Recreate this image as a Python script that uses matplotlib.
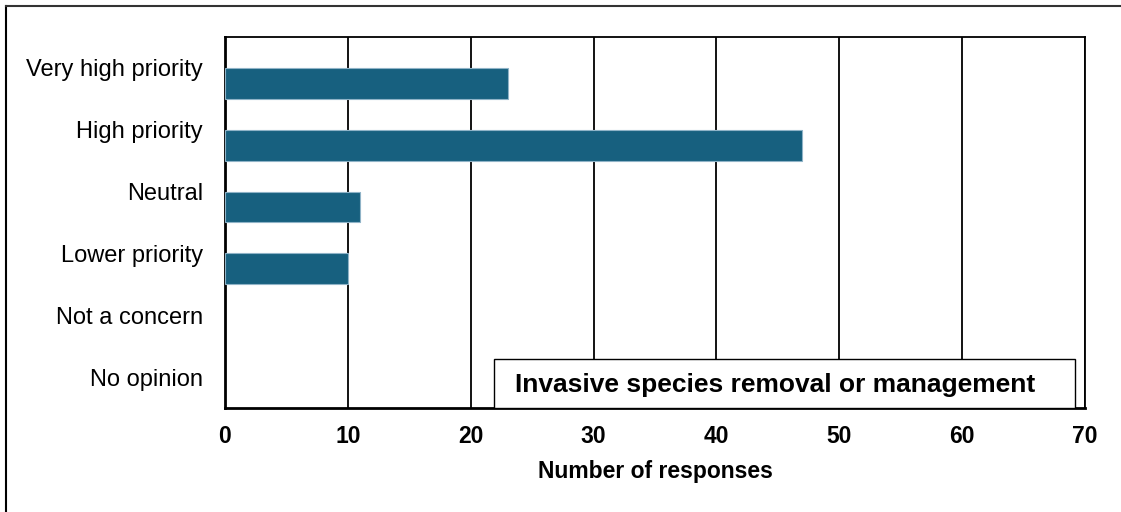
import matplotlib.pyplot as plt
from matplotlib.patches import Rectangle
from matplotlib.lines import Line2D

plt.rcParams['font.family'] = ['Liberation Sans', 'DejaVu Sans']

categories = ['Very high priority', 'High priority', 'Neutral', 'Lower priority',
              'Not a concern', 'No opinion']
responses = [23, 47, 11, 10, 0, 0]
xticks = [0, 10, 20, 30, 40, 50, 60, 70]

fig = plt.figure(figsize=(11.21, 5.12), dpi=100)
ax = fig.add_axes([0.2007, 0.203, 0.7672, 0.725])

ypos = list(range(len(categories)))
edge_w = [0.8 if v > 0 else 0 for v in responses]
ax.barh(ypos, responses, height=0.5, align='edge', color='#17607f',
        edgecolor='#8fb3c7', linewidth=edge_w, zorder=3)

ax.set_xlim(0, 70)
ax.set_ylim(len(categories) - 0.5, -0.5)
ax.set_xticks(xticks)
ax.set_xticklabels([str(t) for t in xticks], fontsize=16.5, fontweight='bold')
ax.set_yticks(ypos)
ax.set_yticklabels(categories, fontsize=17)
ax.tick_params(axis='both', length=0)
ax.tick_params(axis='x', pad=12)
ax.tick_params(axis='y', pad=16)
ax.xaxis.grid(True, color='black', linewidth=1.3)
ax.set_axisbelow(True)
for side in ['top', 'right']:
    ax.spines[side].set_linewidth(1.3)
for side in ['left', 'bottom']:
    ax.spines[side].set_linewidth(2)
ax.set_xlabel('Number of responses', fontsize=16.5, fontweight='bold', labelpad=9)

ax.add_patch(Rectangle((0.313, 0.0), 0.675, 0.132, transform=ax.transAxes,
                       facecolor='white', edgecolor='black', linewidth=1, zorder=5))
ax.text(0.337, 0.063, 'Invasive species removal or management', transform=ax.transAxes,
        fontsize=19, fontweight='bold', va='center', ha='left', zorder=6)

# frame around the figure (left and top visible)
fig.add_artist(Line2D([0.0054, 0.0054], [0, 0.988], color='black', linewidth=1.5))
fig.add_artist(Line2D([0.0054, 1.0], [0.988, 0.988], color='#333333', linewidth=1.5))

fig.savefig('out.png', dpi=100)
